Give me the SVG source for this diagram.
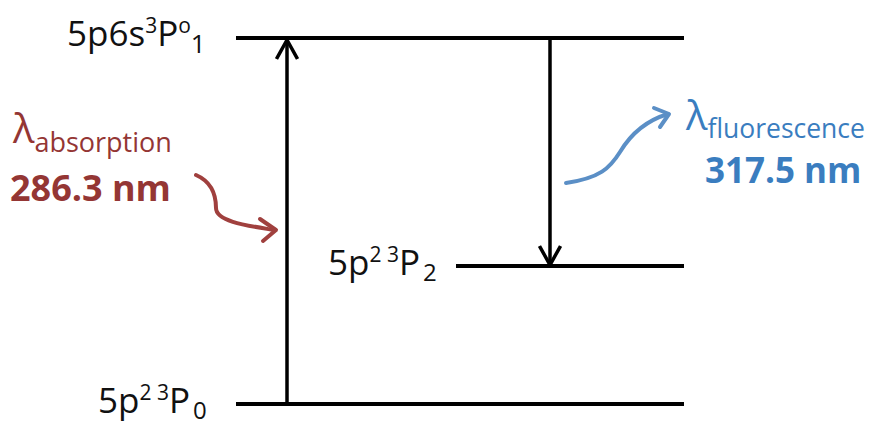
<svg xmlns="http://www.w3.org/2000/svg" width="886" height="425" viewBox="0 0 886 425">
<defs>
<style>
.lvl{stroke:#000;stroke-width:4;fill:none}
.tr{stroke:#000;stroke-width:3.5;fill:none}
.lab{font-family:"Open Sans","Liberation Sans",sans-serif;font-size:35px;fill:#111}
.sup{font-size:21px}
.red{fill:#943634;font-family:"Open Sans","Liberation Sans",sans-serif}
.blue{fill:#3a7dbf;font-family:"Open Sans","Liberation Sans",sans-serif}
</style>
<marker id="ah" viewBox="0 0 24 24" refX="22" refY="12" markerWidth="24" markerHeight="24" markerUnits="userSpaceOnUse" orient="auto">
<path d="M3,1.5 L22,12 L3,22.5" fill="none" stroke="#000" stroke-width="3.5" stroke-linejoin="miter"/>
</marker>
</defs>
<g id="level-top">
<line class="lvl" x1="236" y1="38" x2="684" y2="38"/>
<text class="lab" x="67" y="46">5p6s<tspan class="sup" dy="-13">3</tspan><tspan dy="13">P</tspan><tspan class="sup" dy="-13">o</tspan><tspan dy="20" font-size="26">1</tspan></text>
</g>
<g id="level-mid">
<line class="lvl" x1="456" y1="266" x2="684" y2="266"/>
<text class="lab" x="328" y="275">5p<tspan class="sup" dy="-13">2 3</tspan><tspan dy="13">P</tspan><tspan font-size="24" dx="3" dy="6">2</tspan></text>
</g>
<g id="level-bot">
<line class="lvl" x1="236" y1="404" x2="684" y2="404"/>
<text class="lab" x="98" y="413">5p<tspan class="sup" dy="-13">2 3</tspan><tspan dy="13">P</tspan><tspan font-size="24" dx="3" dy="6">0</tspan></text>
</g>
<g id="absorption-label">
<text class="red" x="13" y="143" font-size="40">λ<tspan font-size="27" dy="9">absorption</tspan></text>
<text class="red" x="10" y="201" font-size="36" font-weight="bold">286.3 nm</text>
</g>
<g id="fluorescence-label">
<text class="blue" x="686" y="130" font-size="40">λ<tspan font-size="26.5" dy="8">fluorescence</tspan></text>
<text class="blue" x="705" y="183" font-size="35" font-weight="bold">317.5 nm</text>
</g>
<g id="connectors">
<line class="tr" x1="287" y1="404" x2="287" y2="40" marker-end="url(#ah)"/>
<line class="tr" x1="550" y1="38" x2="550" y2="265" marker-end="url(#ah)"/>
<path d="M196,175 C212,182 216,196 216,208 C216,222 250,226 274,230" fill="none" stroke="#a0403e" stroke-width="4" stroke-linecap="round"/>
<path d="M260,219 L276,230 L263,241" fill="none" stroke="#a0403e" stroke-width="4" stroke-linecap="round" stroke-linejoin="round"/>
<path d="M566,183 C600,178 610,168 620,152 C632,132 648,120 668,114" fill="none" stroke="#5b8fc6" stroke-width="4" stroke-linecap="round"/>
<path d="M654,108 L669,114 L660,127" fill="none" stroke="#5b8fc6" stroke-width="4" stroke-linecap="round" stroke-linejoin="round"/>
</g>
</svg>
